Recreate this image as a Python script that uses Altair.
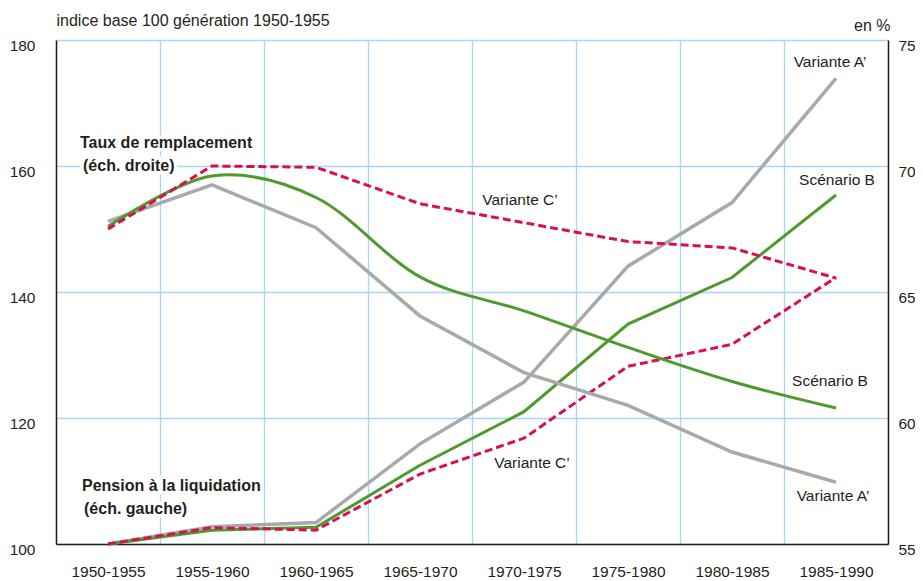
import altair as alt
import pandas as pd

# ---------------- data ----------------
generations = ["1950-1955", "1955-1960", "1960-1965", "1965-1970",
               "1970-1975", "1975-1980", "1980-1985", "1985-1990"]

# Pension à la liquidation (indice, échelle gauche)
pension_A = [100, 102.75, 103.4, 115.9, 125.7, 144.1, 154.2, 173.9]
pension_B = [100, 102.2, 102.65, 112.5, 121.0, 134.9, 142.3, 155.4]
pension_C = [100, 102.6, 102.2, 111.1, 116.8, 128.2, 131.7, 142.3]

# Taux de remplacement (en %, échelle droite)
taux_A = [67.8, 69.25, 67.55, 64.05, 61.8, 60.5, 58.65, 57.45]
taux_B = [67.6, 69.6, 68.75, 65.6, 64.25, 62.8, 61.45, 60.4]
taux_C = [67.5, 70.0, 69.95, 68.5, 67.75, 67.0, 66.75, 65.55]

left_ticks = [100, 120, 140, 160, 180]
right_ticks = [55, 60, 65, 70, 75]

# series labels (positioned in left-scale units)
series_texts = ["Variante A\u2019", "Sc\u00e9nario B", "Variante C\u2019",
                "Sc\u00e9nario B", "Variante C\u2019", "Variante A\u2019"]
series_gens = ["1985-1990", "1985-1990", "1970-1975",
               "1985-1990", "1970-1975", "1985-1990"]
series_vals = [176.5, 157.8, 154.6, 125.9, 112.9, 107.6]
series_dx = [-6, 1, -4, -6, 8, -3]

note_texts = ["Taux de remplacement", "(\u00e9ch. droite)",
              "Pension \u00e0 la liquidation", "(\u00e9ch. gauche)"]
note_gens = ["1950-1955"] * 4
note_vals = [163.65, 160.0, 109.2, 105.6]
note_dx = [-28, -25, -26, -24]

# ---------------- style ----------------
FONT = "Liberation Sans"
TXT = "#231f20"
GRID = "#a9d7f3"
GRAY = "#a9a9aa"
GREEN = "#4e9a2e"
RED = "#d5124b"

x_scale = alt.Scale(type="band", paddingInner=0, paddingOuter=0)
left_scale = alt.Scale(domain=[100, 180], nice=False, zero=False)
right_scale = alt.Scale(domain=[55, 75], nice=False, zero=False)

x_axis = alt.Axis(title=None, tickBand="extent", grid=True, gridColor=GRID,
                  gridWidth=1.3, ticks=False, tickSize=0, domainColor=TXT,
                  domainWidth=1.5, labelFont=FONT, labelFontSize=15.5,
                  labelColor=TXT, labelPadding=20, labelAngle=0)

left_axis = alt.Axis(values=left_ticks, grid=True, gridColor=GRID, gridWidth=1.3,
                     ticks=False, tickSize=0, domainColor=TXT, domainWidth=1.5,
                     labelFont=FONT, labelFontSize=15.5, labelColor=TXT,
                     labelPadding=21, labelOffset=5,
                     title="indice base 100 g\u00e9n\u00e9ration 1950-1955",
                     titleAngle=0, titleAlign="left", titleBaseline="middle",
                     titleX=0, titleY=-20, titleFont=FONT, titleFontSize=16,
                     titleFontWeight="normal", titleColor=TXT)

right_axis = alt.Axis(values=right_ticks, orient="right", grid=False,
                      ticks=False, tickSize=0, domainColor=TXT, domainWidth=1.5,
                      labelFont=FONT, labelFontSize=15.5, labelColor=TXT,
                      labelPadding=10, labelOffset=5, title="en %",
                      titleAngle=0, titleAlign="right", titleBaseline="middle",
                      titleX=2, titleY=-15, titleFont=FONT, titleFontSize=16,
                      titleFontWeight="normal", titleColor=TXT)


def xenc():
    return alt.X("gen:N", sort=generations, scale=x_scale, bandPosition=0.5,
                 axis=x_axis, title=None)


def line(values, color, scale, axis, dash=None, width=3.0, interp="linear"):
    df = pd.DataFrame({"gen": generations, "val": values})
    kw = dict(color=color, strokeWidth=width, interpolate=interp,
              strokeCap="butt")
    if dash:
        kw["strokeDash"] = dash
    return alt.Chart(df).mark_line(**kw).encode(
        x=xenc(),
        y=alt.Y("val:Q", scale=scale, axis=axis, title=None),
    )


def label(text, gen, val, dx, align="center", bold=False, halo=False):
    df = pd.DataFrame({"gen": [gen], "val": [val], "text": [text]})
    kw = dict(align=align, baseline="middle", dx=dx, font=FONT,
              fontSize=16 if bold else 15.5,
              fontWeight="bold" if bold else "normal", color=TXT)
    if halo:
        kw.update(color="white", stroke="white", strokeWidth=7)
    return alt.Chart(df).mark_text(**kw).encode(
        x=xenc(),
        y=alt.Y("val:Q", scale=left_scale, axis=left_axis, title=None),
        text="text:N")


left_layers = [
    line(pension_A, GRAY, left_scale, left_axis, width=3.5),
    line(pension_B, GREEN, left_scale, left_axis, width=3.0),
    line(pension_C, RED, left_scale, left_axis, dash=[8, 4], width=3.0),
]
for t, g, v, d in zip(note_texts, note_gens, note_vals, note_dx):
    left_layers.append(label(t, g, v, d, align="left", bold=True, halo=True))
for t, g, v, d in zip(note_texts, note_gens, note_vals, note_dx):
    left_layers.append(label(t, g, v, d, align="left", bold=True))
for t, g, v, d in zip(series_texts, series_gens, series_vals, series_dx):
    left_layers.append(label(t, g, v, d))

right_layers = [
    line(taux_A, GRAY, right_scale, right_axis, width=3.5),
    line(taux_B, GREEN, right_scale, right_axis, width=3.0, interp="cardinal"),
    line(taux_C, RED, right_scale, right_axis, dash=[8, 4], width=3.0),
]

chart = alt.layer(
    alt.layer(*left_layers),
    alt.layer(*right_layers),
).resolve_scale(y="independent").properties(
    width=832, height=504,
    autosize=alt.AutoSizeParams(type="none"),
    padding={"left": 48, "top": 32, "right": 27, "bottom": 36},
).configure(background="white").configure_view(stroke=None)

chart.save("out.html", embed_options={"renderer": "svg", "actions": False})
